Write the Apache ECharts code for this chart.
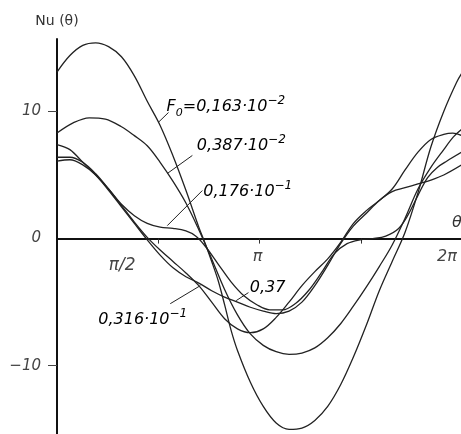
<!DOCTYPE html>
<html>
<head>
<meta charset="utf-8">
<script src="https://cdn.jsdelivr.net/npm/echarts@6/dist/echarts.min.js"></script>
<style>
html,body{margin:0;padding:0;background:#fff;}
#chart{width:461px;height:434px;}
</style>
</head>
<body>
<div id="chart"></div>
<script>
// curves Nu(theta), theta in radians
var thetaA = [0,0.2,0.4,0.6,0.8,1.0,1.2,1.4,1.6,1.8,2.0,2.2,2.3,2.4,2.5,2.6,2.7,2.8,3.0,3.2,3.4,3.6,3.8,4.0,4.2,4.4,4.6,4.8,5.0,5.2,5.4,5.6,5.8,6.0,6.2,6.28]
var nuA    = [13.1,14.4,15.2,15.4,15.1,14.3,12.8,10.8,8.9,6.5,3.8,0.9,-0.4,-1.8,-3.3,-5.2,-7.2,-8.8,-11.3,-13.2,-14.5,-15.0,-14.9,-14.3,-13.2,-11.5,-9.3,-6.8,-4.1,-1.8,0.5,3.6,7.2,10.0,12.3,13.0]

var thetaB = [0,0.25,0.5,0.75,1.0,1.2,1.4,1.6,1.8,2.0,2.2,2.4,2.6,2.8,3.0,3.2,3.4,3.6,3.8,4.0,4.2,4.4,4.6,4.8,5.0,5.2,5.4,5.6,5.8,6.0,6.15,6.28]
var nuB    = [8.3,9.1,9.5,9.4,8.8,8.1,7.3,6.0,4.5,2.8,0.7,-1.6,-4.0,-6.0,-7.5,-8.4,-8.9,-9.1,-9.0,-8.6,-7.8,-6.7,-5.3,-3.8,-2.2,-0.5,1.6,3.9,5.6,7.0,8.0,8.6]

var thetaC = [0,0.2,0.4,0.6,0.8,1.0,1.2,1.4,1.6,1.8,2.0,2.15,2.3,2.5,2.7,2.9,3.1,3.3,3.5,3.7,3.9,4.1,4.3,4.5,4.7,4.9,5.1,5.3,5.45,5.6,5.75,5.9,6.05,6.28]
var nuC    = [7.4,7.0,6.0,5.0,3.9,2.7,1.8,1.2,0.9,0.8,0.6,0.2,-0.6,-2.0,-3.4,-4.5,-5.2,-5.6,-5.6,-5.1,-4.1,-2.7,-1.2,-0.4,-0.1,0.0,0.2,0.8,1.9,3.4,4.8,5.6,6.1,6.8]

var thetaD = [0,0.2,0.4,0.6,0.8,1.0,1.2,1.4,1.6,1.8,2.0,2.2,2.4,2.6,2.8,3.0,3.2,3.4,3.6,3.8,4.0,4.2,4.4,4.6,4.8,5.0,5.2,5.4,5.6,5.8,6.0,6.14,6.28]
var nuD    = [6.4,6.4,6.0,5.1,3.9,2.6,1.3,0.1,-0.9,-1.8,-2.7,-3.7,-5.0,-6.3,-7.1,-7.4,-7.1,-6.2,-5.0,-3.7,-2.6,-1.6,-0.3,1.2,2.2,3.0,3.9,5.4,6.8,7.8,8.2,8.3,8.1]

var thetaE = [0,0.2,0.4,0.6,0.8,1.0,1.2,1.4,1.6,1.8,2.0,2.2,2.4,2.6,2.8,3.0,3.2,3.4,3.6,3.8,4.0,4.2,4.4,4.6,4.8,5.0,5.2,5.4,5.6,5.8,6.0,6.28]
var nuE    = [6.1,6.2,5.8,5.0,3.8,2.5,1.2,-0.1,-1.3,-2.3,-3.0,-3.5,-4.1,-4.6,-5.0,-5.4,-5.7,-5.9,-5.7,-5.0,-3.7,-2.1,-0.4,1.0,2.0,3.0,3.7,4.0,4.3,4.6,5.0,5.8]

// F0 labels: text, exponent, anchor (left/baseline) and leader line, all in data units
var labelText = ['{t|F}{s|0}{t|=0,163·10}', '{t|0,387·10}', '{t|0,176·10}', '{t|0,316·10}', '{t|0,37}']
var labelExp  = ['−2', '−2', '−1', '−1', '']
var labelAt   = [[1.70, 9.9], [2.17, 6.85], [2.27, 3.2], [0.64, -6.85], [2.99, -4.33]]
var leaderFrom = [[1.73, 9.92], [2.10, 6.54], [2.255, 3.78], [2.224, -3.70], [2.97, -4.25]]
var leaderTo   = [[1.57, 9.13], [1.711, 5.12], [1.711, 1.02], [1.757, -5.12], [2.78, -4.88]]

var yTicks = [-10, 0, 10]
var xTicks = [Math.PI/2, Math.PI, 3*Math.PI/2, 2*Math.PI]
var xLabels = {'1': '{h|π/2}', '2': '{p|π}', '4': '{w|2π}'}

var curves = [[thetaA, nuA], [thetaB, nuB], [thetaC, nuC], [thetaD, nuD], [thetaE, nuE]]

var yMin = -16, yMax = 15.7
var gridTop = 39, gridH = 403

var ink = '#222'
var fam = 'DejaVu Sans'
var labelFont = {fontFamily: fam, fontStyle: 'italic', color: '#444'}

var chart = echarts.init(document.getElementById('chart'))

var series = curves.map(function (c, i) {
  return {
    type: 'line',
    data: c[0].map(function (t, k) { return [t, c[1][k]] }),
    smooth: 0.35,
    symbol: 'none',
    lineStyle: {color: ink, width: 1.3},
    silent: true,
    markLine: {
      silent: true,
      symbol: ['none', 'none'],
      label: {show: false},
      lineStyle: {color: ink, width: 1, type: 'solid'},
      data: [[{coord: leaderFrom[i]}, {coord: leaderTo[i]}]]
    }
  }
})

// x axis is drawn through Nu = 0: shift it up from the grid bottom
var zeroOffset = -gridH * (0 - yMin) / (yMax - yMin)

chart.setOption({
  animation: false,
  backgroundColor: '#fff',
  grid: {left: 57, top: gridTop, width: 405, height: gridH, outerBoundsMode: 'none', containLabel: false},
  xAxis: {
    type: 'value', min: 0, max: 2*Math.PI,
    offset: zeroOffset,
    name: 'θ', nameLocation: 'end', nameGap: -10,
    nameTextStyle: {fontFamily: fam, fontStyle: 'italic', fontSize: 16, color: '#333',
      align: 'left', verticalAlign: 'bottom', padding: [0, 0, 8, 0]},
    axisLine: {onZero: false, lineStyle: {color: '#111', width: 2}},
    axisTick: {customValues: xTicks, length: 5, lineStyle: {color: '#333', width: 1}},
    axisLabel: {
      customValues: [Math.PI/2, Math.PI, 2*Math.PI],
      margin: 10,
      formatter: function (v) { return xLabels[String(Math.round(v / (Math.PI/2)))] || '' },
      rich: {
        h: {fontFamily: fam, fontStyle: 'italic', fontSize: 17, color: '#444', padding: [8, 72, 0, 0]},
        p: {fontFamily: fam, fontStyle: 'italic', fontSize: 16, color: '#444', padding: [0, 4, 0, 0]},
        w: {fontFamily: fam, fontStyle: 'italic', fontSize: 16, color: '#444', padding: [0, 30, 0, 0]}
      }
    },
    splitLine: {show: false}
  },
  yAxis: {
    type: 'value', min: yMin, max: yMax,
    name: 'Nu (θ)', nameLocation: 'end', nameGap: 11,
    nameTextStyle: {fontFamily: fam, fontSize: 14, color: '#333'},
    axisLine: {show: true, lineStyle: {color: '#111', width: 2}},
    axisTick: {customValues: [-10, 10], length: 9, lineStyle: {color: '#444', width: 1}},
    axisLabel: Object.assign({
      customValues: yTicks, margin: 16, fontSize: 15,
      formatter: function (v) { return String(v).replace('-', '−') }
    }, labelFont),
    splitLine: {show: false}
  },
  series: series
})

// place the F0 labels through the chart's own scales
var baseRich = {
  t: {fontFamily: fam, fontStyle: 'italic', fontSize: 16, color: '#333', lineHeight: 24, verticalAlign: 'middle'},
  s: {fontFamily: fam, fontStyle: 'italic', fontSize: 11, color: '#333', lineHeight: 12, verticalAlign: 'bottom'},
  e: {fontFamily: fam, fontStyle: 'italic', fontSize: 12, color: '#333', lineHeight: 12, verticalAlign: 'top'}
}
var graphics = labelText.map(function (txt, i) {
  var p = chart.convertToPixel({gridIndex: 0}, labelAt[i])
  var full = txt + (labelExp[i] ? '{e|' + labelExp[i] + '}' : '')
  return {
    type: 'text', x: p[0], y: p[1] + 6, silent: true,
    style: {text: full, rich: baseRich, align: 'left', verticalAlign: 'bottom'}
  }
})
chart.setOption({graphic: graphics})
</script>
</body>
</html>
